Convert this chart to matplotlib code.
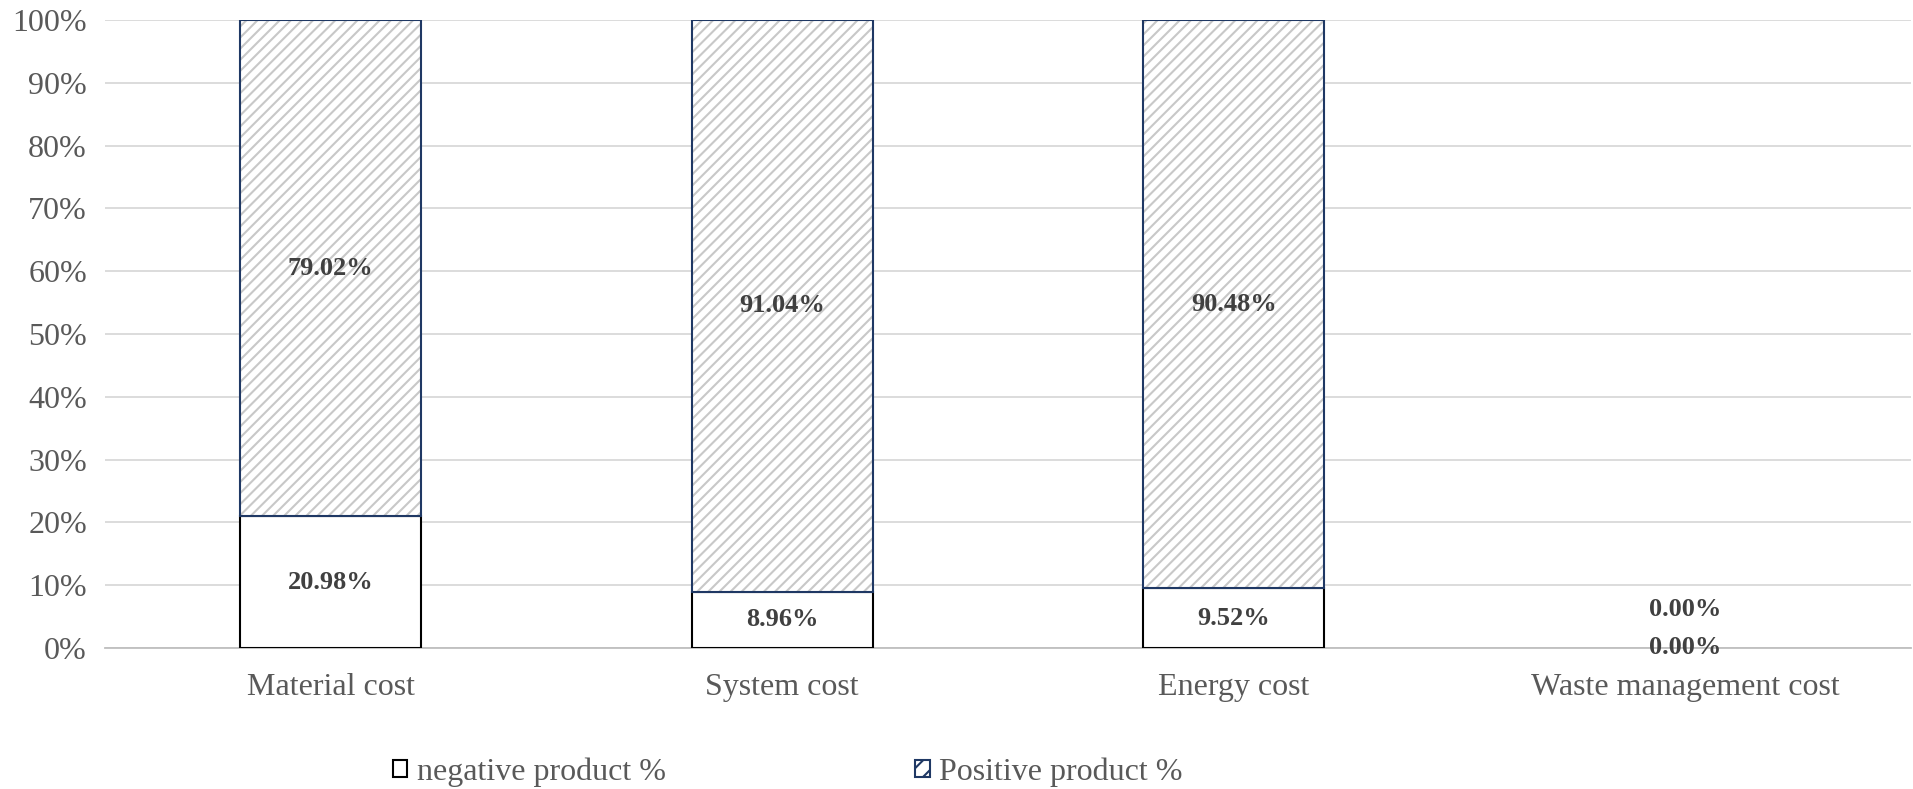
import matplotlib
matplotlib.use("Agg")
import matplotlib.pyplot as plt
from matplotlib.patches import Patch
from matplotlib.ticker import PercentFormatter
import numpy as np

categories = ["Material cost", "System cost", "Energy cost", "Waste management cost"]
negative_pct = [20.98, 8.96, 9.52, 0.00]
positive_pct = [79.02, 91.04, 90.48, 0.00]
series_names = ["negative product %", "Positive product %"]

plt.rcParams["font.family"] = ["Liberation Serif", "DejaVu Serif"]
plt.rcParams["hatch.linewidth"] = 1.5

TEXT_GREY = "#595959"
LABEL_GREY = "#404040"
NAVY = "#1F3864"
HATCH_GREY = "#C8C8C8"

fig = plt.figure(figsize=(19.13, 7.89), dpi=100)
ax = fig.add_axes([105 / 1913, 1 - 648 / 789, 1806 / 1913, 628 / 789])

x = np.arange(len(categories))
width = 0.4
neg = np.array(negative_pct)
pos = np.array(positive_pct)

# outlines are drawn only for segments that have height
neg_lw = [1.5 if v > 0 else 0 for v in neg]
pos_lw = [1.5 if v > 0 else 0 for v in pos]

# lower segment: plain white box with black outline
ax.bar(x, neg, width, color="white", edgecolor="black", linewidth=neg_lw, zorder=3)
# upper segment: grey diagonal hatch, then a navy outline over it
ax.bar(x, pos, width, bottom=neg, color="white", edgecolor=HATCH_GREY,
       hatch="///", linewidth=0, zorder=3)
ax.bar(x, pos, width, bottom=neg, color="none", edgecolor=NAVY,
       linewidth=pos_lw, zorder=4)

LABEL_FS = 19
# value labels centred in each segment
for i in range(len(categories)):
    ax.text(x[i], neg[i] / 2, f"{neg[i]:.2f}%", ha="center", va="center",
            fontsize=LABEL_FS, fontweight="bold", color=LABEL_GREY, zorder=5)
    ypos = neg[i] + pos[i] / 2
    if pos[i] == 0:
        ax.annotate(f"{pos[i]:.2f}%", (x[i], ypos), xytext=(0, 28),
                    textcoords="offset points", ha="center", va="center",
                    fontsize=LABEL_FS, fontweight="bold", color=LABEL_GREY, zorder=5)
    else:
        ax.text(x[i], ypos, f"{pos[i]:.2f}%", ha="center", va="center",
                fontsize=LABEL_FS, fontweight="bold", color=LABEL_GREY, zorder=5)

ax.set_xlim(-0.5, len(categories) - 0.5)
ax.set_ylim(0, 100)
ax.set_yticks(np.arange(0, 101, 10))
ax.yaxis.set_major_formatter(PercentFormatter(decimals=0))
ax.set_xticks(x)
ax.set_xticklabels(categories)
ax.tick_params(axis="both", length=0, labelsize=23, labelcolor=TEXT_GREY)
ax.tick_params(axis="x", pad=18)
ax.tick_params(axis="y", pad=13)

ax.grid(axis="y", color="#D9D9D9", linewidth=1.3, zorder=0)
ax.set_axisbelow(True)
for side in ["top", "right", "left"]:
    ax.spines[side].set_visible(False)
ax.spines["bottom"].set_color("#BFBFBF")
ax.spines["bottom"].set_linewidth(1.3)

handles = [
    Patch(facecolor="white", edgecolor="black", linewidth=1.5),
    Patch(facecolor="white", edgecolor=NAVY, hatch="//", linewidth=1.5),
]
leg = fig.legend(handles, series_names, loc="center left",
                 bbox_to_anchor=(393 / 1913, 1 - 772 / 789),
                 ncol=2, frameon=False, fontsize=23, handlelength=0.45, handleheight=0.45,
                 handletextpad=0.3, columnspacing=7.8, borderpad=0, borderaxespad=0)
for t in leg.get_texts():
    t.set_color(TEXT_GREY)

fig.savefig("out.png", dpi=100, facecolor="white")
